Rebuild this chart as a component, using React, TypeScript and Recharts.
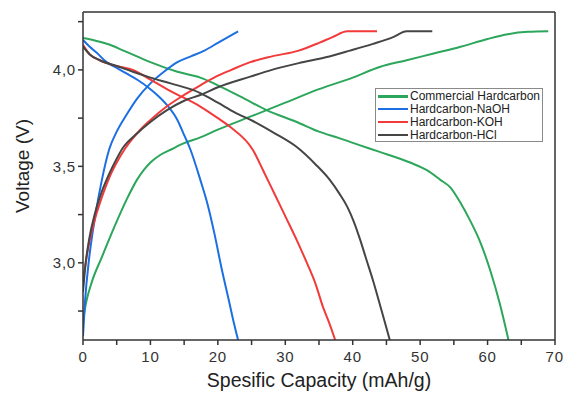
import { Label, Line, LineChart, ReferenceLine, XAxis, YAxis } from "recharts";

// [capacity mAh/g, voltage V]
const commercialCharge: [number, number][] = [
  [0, 2.7], [0.5, 2.8], [1.3, 2.9], [2.8, 3.03], [4.7, 3.19], [6.5, 3.33], [8, 3.43],
  [9, 3.48], [10, 3.52], [11.5, 3.56], [13.2, 3.59], [15, 3.62], [17.4, 3.65], [20, 3.69],
  [25, 3.76], [30, 3.83], [35, 3.9], [40, 3.96], [44, 4.015], [48, 4.05], [52, 4.085],
  [56, 4.12], [60, 4.16], [63, 4.185], [66, 4.197], [69, 4.2],
];
const commercialDischarge: [number, number][] = [
  [0, 4.165], [2, 4.15], [4, 4.13], [6, 4.1], [8, 4.07], [10, 4.04], [14, 3.99],
  [17.4, 3.96], [20, 3.92], [24, 3.85], [27.3, 3.79], [31.7, 3.73], [35, 3.68],
  [38.1, 3.645], [41, 3.61], [44, 3.575], [48.5, 3.52], [51, 3.48], [53, 3.43],
  [54.5, 3.39], [56, 3.31], [57.4, 3.22], [59, 3.1], [60.4, 2.96], [61.8, 2.79], [63.1, 2.6],
];
const naohCharge: [number, number][] = [
  [0, 2.62], [0.3, 2.8], [0.9, 3.02], [1.8, 3.24], [2.8, 3.43], [3.9, 3.59], [5, 3.68],
  [6.5, 3.77], [8, 3.85], [10, 3.93], [12, 3.99], [14, 4.04], [16, 4.07], [18, 4.1],
  [20, 4.14], [23, 4.2],
];
const naohDischarge: [number, number][] = [
  [0, 4.155], [1, 4.12], [2, 4.09], [3.5, 4.04], [5, 4.01], [6.5, 3.98], [8, 3.95],
  [10, 3.9], [11, 3.87], [12.4, 3.82], [14, 3.74], [14.9, 3.67], [15.9, 3.59],
  [17.4, 3.43], [18.5, 3.3], [19.5, 3.15], [20.5, 2.98], [21.6, 2.81], [22.3, 2.7], [23, 2.6],
];
const kohCharge: [number, number][] = [
  [0, 2.9], [0.4, 3.0], [0.9, 3.1], [1.8, 3.23], [2.8, 3.34], [4, 3.45], [5, 3.52],
  [6.2, 3.59], [8.5, 3.69], [10, 3.74], [12.4, 3.81], [15, 3.87], [17.4, 3.92],
  [20, 3.97], [22, 4.0], [24.8, 4.04], [28, 4.07], [32, 4.1], [35, 4.14], [37, 4.17],
  [39.2, 4.2], [43.6, 4.2],
];
const kohDischarge: [number, number][] = [
  [0, 4.13], [1, 4.08], [2.5, 4.05], [5, 4.02], [7.4, 4.0], [10, 3.95], [13, 3.89],
  [17.4, 3.81], [20, 3.75], [21.8, 3.705], [25.2, 3.585], [26.7, 3.48], [28.5, 3.35],
  [30.3, 3.22], [31.8, 3.11], [33.2, 3.0], [34.5, 2.89], [35.6, 2.77], [36.5, 2.69], [37.4, 2.6],
];
const hclCharge: [number, number][] = [
  [0, 2.85], [0.4, 3.0], [0.9, 3.12], [1.8, 3.26], [2.8, 3.37], [4, 3.47], [5, 3.54],
  [5.8, 3.59], [8, 3.67], [10, 3.73], [12.4, 3.79], [15, 3.84], [17.4, 3.87], [20, 3.91],
  [24.8, 3.965], [28, 4.0], [32, 4.035], [36, 4.065], [39.6, 4.1], [43, 4.135], [46, 4.17],
  [48, 4.2], [51.8, 4.2],
];
const hclDischarge: [number, number][] = [
  [0, 4.12], [1, 4.08], [2.5, 4.05], [5, 4.02], [7.4, 3.99], [10, 3.96], [13, 3.93],
  [17.4, 3.88], [20, 3.83], [22.5, 3.78], [25.2, 3.735], [28.5, 3.67], [31.7, 3.6],
  [34.5, 3.51], [36.6, 3.43], [38, 3.36], [39.2, 3.29], [40.2, 3.21], [41.1, 3.12],
  [42, 3.02], [43, 2.91], [44.3, 2.75], [45.5, 2.6],
];

const SERIES = [
  { name: "Commercial Hardcarbon", color: "#2ba65a", charge: commercialCharge, discharge: commercialDischarge },
  { name: "Hardcarbon-NaOH", color: "#1c6fe3", charge: naohCharge, discharge: naohDischarge },
  { name: "Hardcarbon-KOH", color: "#f23a3a", charge: kohCharge, discharge: kohDischarge },
  { name: "Hardcarbon-HCl", color: "#454545", charge: hclCharge, discharge: hclDischarge },
];

const X_TICKS = [0, 5, 10, 15, 20, 25, 30, 35, 40, 45, 50, 55, 60, 65, 70];
const Y_TICKS = [2.75, 3, 3.25, 3.5, 3.75, 4, 4.25];

const toRows = (pts: [number, number][]) => pts.map(([c, v]) => ({ c, v }));

const AXIS = "#333";
const FONT = "'Liberation Sans', Arial, sans-serif";

export default function App() {
  return (
    <div style={{ position: "absolute", left: 0, top: 0, width: 563, height: 393, background: "#fff", fontFamily: FONT }}>
      <LineChart width={563} height={393} margin={{ top: 12, right: 8, bottom: 0, left: 8 }}>
        <XAxis
          xAxisId="b"
          type="number"
          dataKey="c"
          domain={[0, 70]}
          ticks={X_TICKS}
          tickFormatter={(v) => (v % 10 === 0 ? String(v) : "")}
          height={53}
          stroke={AXIS}
          strokeWidth={1.5}
          tick={{ fontSize: 15, fill: "#333", fontFamily: FONT, dy: 4, letterSpacing: 0.8 }}
          tickSize={5}
          allowDataOverflow
        >
          <Label
            content={() => (
              <text x={319} y={387} textAnchor="middle" style={{ fontSize: 19.5, fill: "#222", fontFamily: FONT }}>
                Spesific Capacity (mAh/g)
              </text>
            )}
          />
        </XAxis>
        <YAxis
          yAxisId="l"
          type="number"
          domain={[2.6, 4.3]}
          ticks={Y_TICKS}
          tickFormatter={(v) => (Math.abs(v * 2 - Math.round(v * 2)) < 1e-6 ? v.toFixed(1).replace(".", ",") : "")}
          width={75}
          stroke={AXIS}
          strokeWidth={1.5}
          tick={{ fontSize: 15, fill: "#333", fontFamily: FONT, letterSpacing: 0.8 }}
          tickSize={5}
          allowDataOverflow
        >
          <Label
            content={() => (
              <text x={22} y={166} transform="rotate(-90 22 166)" textAnchor="middle" dominantBaseline="central" style={{ fontSize: 19, fill: "#222", fontFamily: FONT }}>
                Voltage (V)
              </text>
            )}
          />
        </YAxis>
        <ReferenceLine xAxisId="b" yAxisId="l" y={4.3} stroke={AXIS} strokeWidth={1.5} />
        <ReferenceLine xAxisId="b" yAxisId="l" x={70} stroke={AXIS} strokeWidth={1.5} />
        {SERIES.flatMap((s) => [
          <Line
            key={s.name + "-c"}
            xAxisId="b"
            yAxisId="l"
            data={toRows(s.charge)}
            dataKey="v"
            type="monotone"
            stroke={s.color}
            strokeWidth={2}
            dot={false}
            isAnimationActive={false}
          />,
          <Line
            key={s.name + "-d"}
            xAxisId="b"
            yAxisId="l"
            data={toRows(s.discharge)}
            dataKey="v"
            type="monotone"
            stroke={s.color}
            strokeWidth={2}
            dot={false}
            isAnimationActive={false}
          />,
        ])}
      </LineChart>
      <div
        style={{
          position: "absolute",
          left: 375,
          top: 88,
          width: 168,
          height: 54,
          border: "1.5px solid #8a8a8a",
          background: "#fff",
          padding: "1px 0 0 2px",
          boxSizing: "border-box",
        }}
      >
        {SERIES.map((s) => (
          <div key={s.name} style={{ display: "flex", alignItems: "center", height: 12.8, fontSize: 12, color: "#222", whiteSpace: "nowrap" }}>
            <span style={{ display: "inline-block", width: 30, height: 2.5, background: s.color, marginRight: 2 }} />
            {s.name}
          </div>
        ))}
      </div>
    </div>
  );
}
